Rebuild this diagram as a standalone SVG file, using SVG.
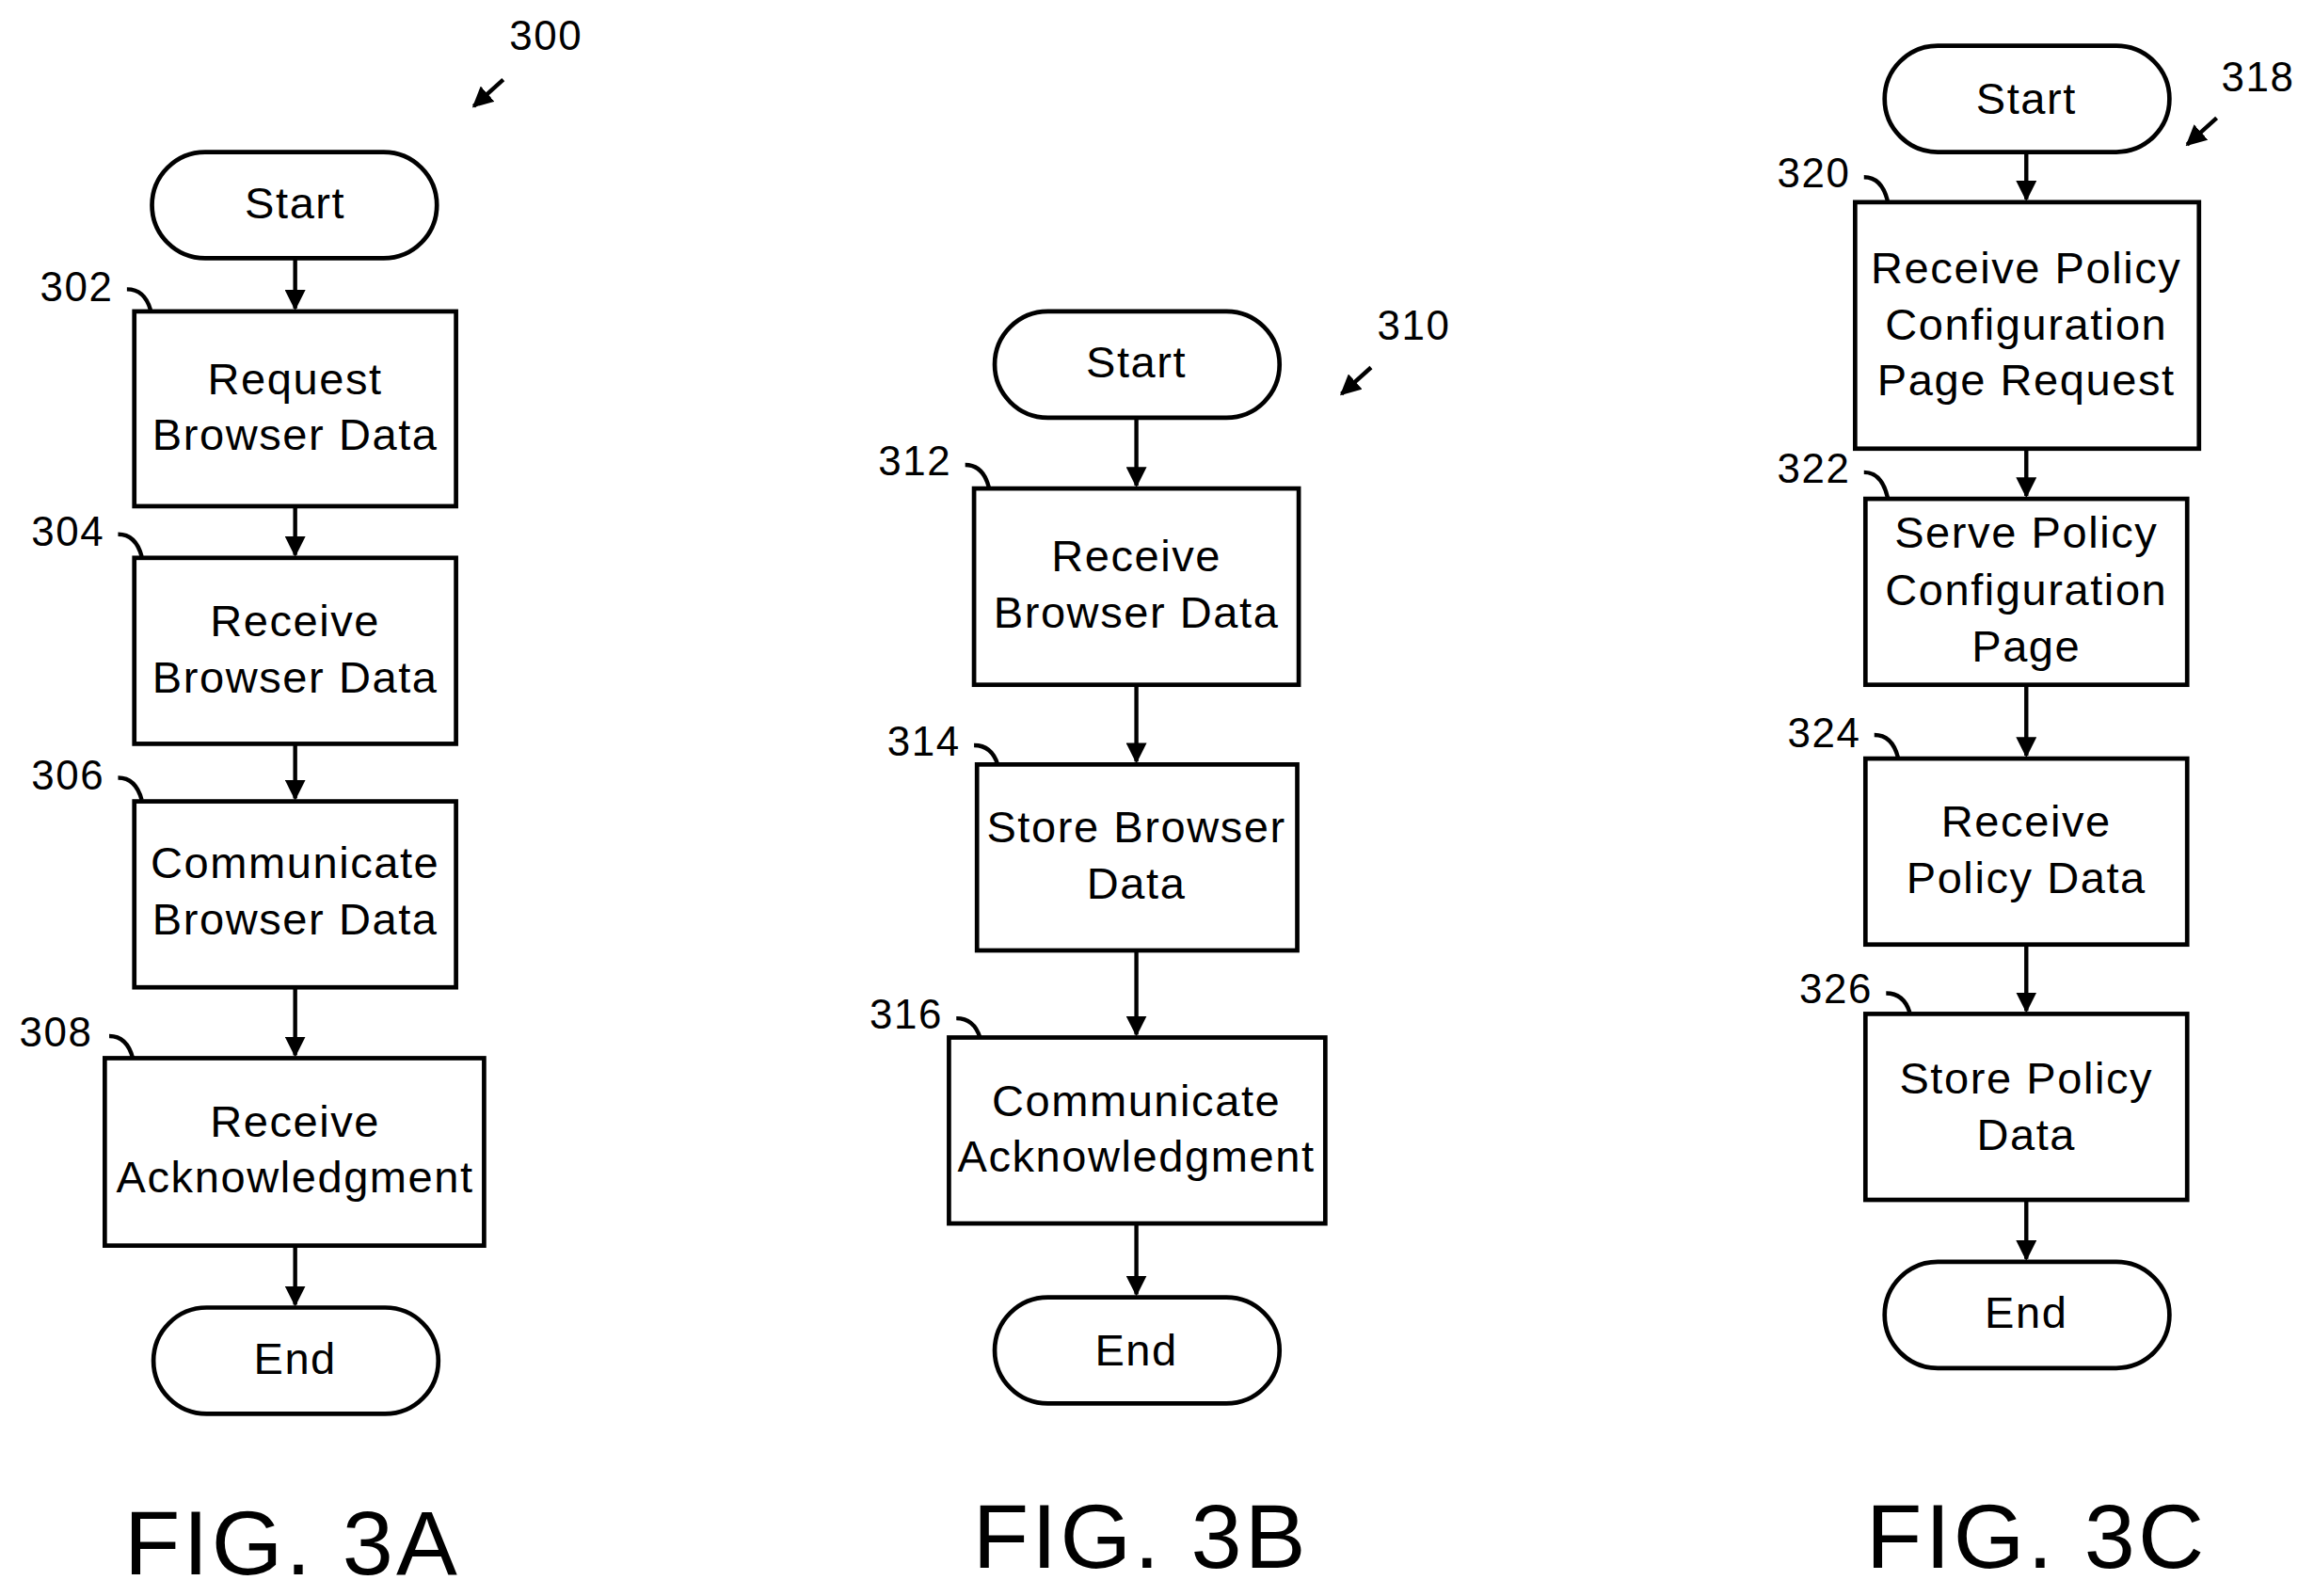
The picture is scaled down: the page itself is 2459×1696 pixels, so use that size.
<svg xmlns="http://www.w3.org/2000/svg" width="2459" height="1696" viewBox="0 0 2459 1696">
<style>
.b{fill:#fff;stroke:#000;stroke-width:3}
.t{font-family:"Liberation Sans",Arial,sans-serif;font-size:30px;letter-spacing:1px;text-anchor:middle;fill:#000}
.l{font-family:"Liberation Sans",Arial,sans-serif;font-size:28px;letter-spacing:1px;text-anchor:middle;fill:#000}
.f{font-family:"Liberation Sans",Arial,sans-serif;font-size:62px;letter-spacing:2px;text-anchor:middle;fill:#000}
.c{fill:none;stroke:#000;stroke-width:2.8}
</style>
<defs><marker id="a" viewBox="0 0 10 10" refX="9" refY="5" markerWidth="5" markerHeight="5" orient="auto" markerUnits="strokeWidth"><path d="M0,0L10,5L0,10z"/></marker></defs>
<rect width="2459" height="1696" fill="#fff"/>
<g transform="scale(1.5683)">
<g id="connectors" class="c" marker-end="url(#a)">
<path d="M200 175V209"/><path d="M200 343V376"/><path d="M200 504V541"/><path d="M200 669V715"/><path d="M200 844V884"/>
<path d="M770 283V329"/><path d="M770 464V516"/><path d="M770 644V701"/><path d="M770 829V877"/>
<path d="M1373 103V135"/><path d="M1373 304V336"/><path d="M1373 464V512"/><path d="M1373 640V685"/><path d="M1373 813V853"/>
<path d="M341 54L321 72"/><path d="M929 249L909 267"/><path d="M1502 80L1482 98"/>
</g>
<g id="refs" class="c">
<path d="M86 196q12 0 16 14"/><path d="M80 362q12 0 16 15"/><path d="M80 527q12 0 16 15"/><path d="M74 702q12 0 16 15"/>
<path d="M654 315q12 0 16 15"/><path d="M660 505q12 0 16 13"/><path d="M648 690q12 0 16 13"/>
<path d="M1263 120q12 0 16 16"/><path d="M1263 320q12 0 16 17"/><path d="M1270 498q12 0 16 15"/><path d="M1278 673q12 0 16 13"/>
</g>
<g id="a_start"><rect class="b" x="103" y="103" width="193" height="72" rx="36"/><text class="t" x="200" y="148">Start</text></g>
<g id="n302"><rect class="b" x="91" y="211" width="218" height="132"/><text class="t" x="200" y="267">Request</text><text class="t" x="200" y="305">Browser Data</text><text class="l" x="52" y="204">302</text></g>
<g id="n304"><rect class="b" x="91" y="378" width="218" height="126"/><text class="t" x="200" y="431">Receive</text><text class="t" x="200" y="469">Browser Data</text><text class="l" x="46" y="370">304</text></g>
<g id="n306"><rect class="b" x="91" y="543" width="218" height="126"/><text class="t" x="200" y="595">Communicate</text><text class="t" x="200" y="633">Browser Data</text><text class="l" x="46" y="535">306</text></g>
<g id="n308"><rect class="b" x="71" y="717" width="257" height="127"/><text class="t" x="200" y="770">Receive</text><text class="t" x="200" y="808">Acknowledgment</text><text class="l" x="38" y="709">308</text></g>
<g id="a_end"><rect class="b" x="104" y="886" width="193" height="72" rx="36"/><text class="t" x="200" y="931">End</text></g>
<text class="l" x="370" y="34">300</text>
<text class="f" x="198" y="1067">FIG. 3A</text>
<g id="b_start"><rect class="b" x="674" y="211" width="193" height="72" rx="36"/><text class="t" x="770" y="256">Start</text></g>
<g id="n312"><rect class="b" x="660" y="331" width="220" height="133"/><text class="t" x="770" y="387">Receive</text><text class="t" x="770" y="425">Browser Data</text><text class="l" x="620" y="322">312</text></g>
<g id="n314"><rect class="b" x="662" y="518" width="217" height="126"/><text class="t" x="770" y="571">Store Browser</text><text class="t" x="770" y="609">Data</text><text class="l" x="626" y="512">314</text></g>
<g id="n316"><rect class="b" x="643" y="703" width="255" height="126"/><text class="t" x="770" y="756">Communicate</text><text class="t" x="770" y="794">Acknowledgment</text><text class="l" x="614" y="697">316</text></g>
<g id="b_end"><rect class="b" x="674" y="879" width="193" height="72" rx="36"/><text class="t" x="770" y="925">End</text></g>
<text class="l" x="958" y="230">310</text>
<text class="f" x="773" y="1062">FIG. 3B</text>
<g id="c_start"><rect class="b" x="1277" y="31" width="193" height="72" rx="36"/><text class="t" x="1373" y="77">Start</text></g>
<g id="n320"><rect class="b" x="1257" y="137" width="233" height="167"/><text class="t" x="1373" y="192">Receive Policy</text><text class="t" x="1373" y="230">Configuration</text><text class="t" x="1373" y="268">Page Request</text><text class="l" x="1229" y="127">320</text></g>
<g id="n322"><rect class="b" x="1264" y="338" width="218" height="126"/><text class="t" x="1373" y="371">Serve Policy</text><text class="t" x="1373" y="410">Configuration</text><text class="t" x="1373" y="448">Page</text><text class="l" x="1229" y="327">322</text></g>
<g id="n324"><rect class="b" x="1264" y="514" width="218" height="126"/><text class="t" x="1373" y="567">Receive</text><text class="t" x="1373" y="605">Policy Data</text><text class="l" x="1236" y="506">324</text></g>
<g id="n326"><rect class="b" x="1264" y="687" width="218" height="126"/><text class="t" x="1373" y="741">Store Policy</text><text class="t" x="1373" y="779">Data</text><text class="l" x="1244" y="680">326</text></g>
<g id="c_end"><rect class="b" x="1277" y="855" width="193" height="72" rx="36"/><text class="t" x="1373" y="900">End</text></g>
<text class="l" x="1530" y="62">318</text>
<text class="f" x="1380" y="1062">FIG. 3C</text>
</g>
</svg>
